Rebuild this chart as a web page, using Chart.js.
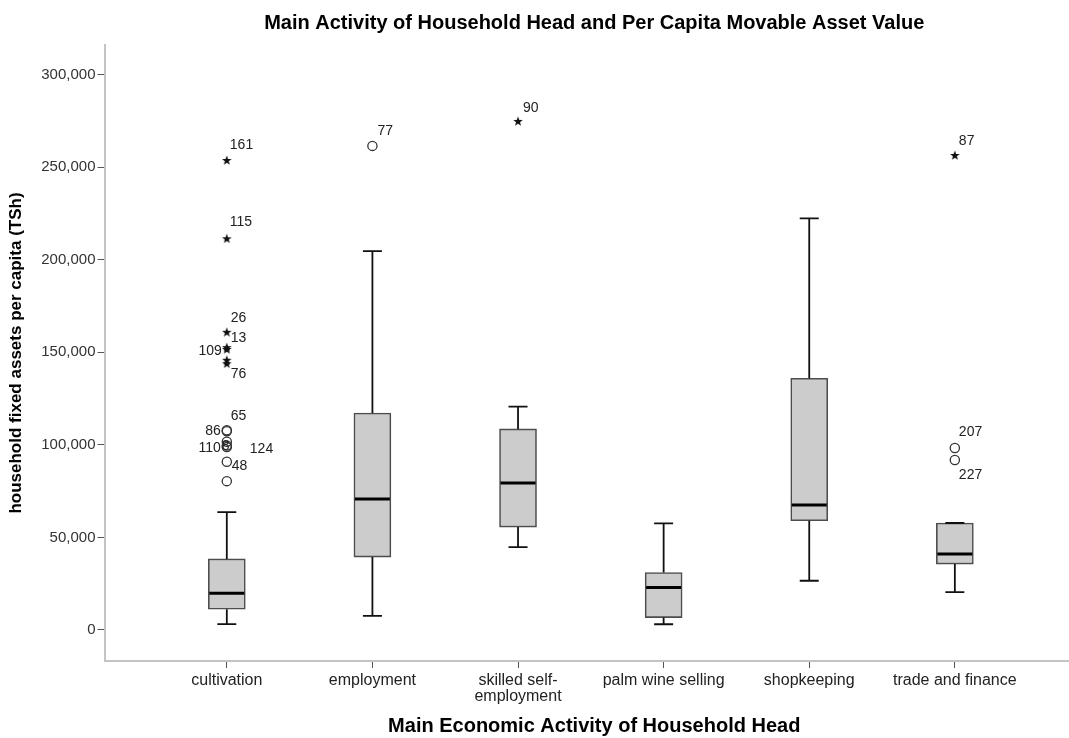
<!DOCTYPE html>
<html lang="en">
<head>
<meta charset="UTF-8">
<title>Main Activity of Household Head and Per Capita Movable Asset Value</title>
<script src="https://cdn.jsdelivr.net/npm/chart.js@4.4.1/dist/chart.umd.js"></script>
<style>
  html, body { margin: 0; padding: 0; background: #fff; overflow: hidden; }
  #wrap { width: 1090px; height: 738px; }
</style>
</head>
<body>
<div id="wrap"><canvas id="chart" width="1090" height="738"></canvas></div>
<script>
// box summary per activity (TSh per capita)
const categories = ['cultivation', 'employment', ['skilled self-', 'employment'], 'palm wine selling', 'shopkeeping', 'trade and finance'];
const whiskerLow  = [3200, 7600, 44800, 3100, 26600, 20500];
const q1          = [11200, 39400, 55600, 6700, 59000, 35600];
const median      = [19800, 70800, 79400, 22900, 67500, 41000];
const q3          = [38400, 117200, 108600, 31000, 136000, 57800];
const whiskerHigh = [63700, 204700, 120700, 57600, 222400, 57800];

// outliers (extreme = star, otherwise circle)
const outlierGroup   = [0, 0, 0, 0, 0, 0, 0, 0, 0, 0, 0, 0, 0, 0, 1, 2, 5, 5, 5];
const outlierValue   = [80400, 90900, 98800, 99600, 101700, 107400, 107900,
                        144100, 146000, 151800, 152800, 161100, 211600, 253900,
                        261500, 275000, 91800, 98300, 256600];
const outlierExtreme = [false, false, false, false, false, false, false,
                        true, true, true, true, true, true, true,
                        false, true, false, false, true];
const outlierCase    = ['', '48', '124', '8', '110', '86', '65',
                        '76', '', '109', '13', '26', '115', '161',
                        '77', '90', '227', '207', '87'];

const yTicks = [0, 50000, 100000, 150000, 200000, 250000, 300000];

// where each case number sits next to its point: [dx, dy, align]
const caseLabelOffset = [[0, 0, 'left'], [5, 4, 'left'], [23, 2, 'left'], [-5, 1, 'left'], [-6, 6, 'right'], [-6, 0, 'right'], [4, -14, 'left'],
                         [4, 11, 'left'], [0, 0, 'left'], [-5, 2, 'right'], [4, -9, 'left'], [4, -14, 'left'], [3, -16, 'left'], [3, -15, 'left'],
                         [5, -15, 'left'], [5, -13, 'left'], [4, 15, 'left'], [4, -16, 'left'], [4, -14, 'left']];

function starImage(size, color) {
    const c = document.createElement('canvas');
    c.width = size; c.height = size;
    const g = c.getContext('2d');
    const r = size / 2, ri = r * 0.42;
    g.beginPath();
    for (let k = 0; k < 10; k++) {
        const rad = k % 2 ? ri : r;
        const a = -Math.PI / 2 + k * Math.PI / 5;
        g.lineTo(r + rad * Math.cos(a), r + 0.6 + rad * Math.sin(a));
    }
    g.closePath();
    g.fillStyle = color;
    g.fill();
    return c;
}

const BOX_W = 37;
const CAP_W = 19;

const boxPlugin = {
    id: 'boxParts',
    afterDatasetsDraw(chart) {
        const ctx = chart.ctx;
        const xs = chart.scales.x, ys = chart.scales.y;
        ctx.save();
        ctx.strokeStyle = '#111';
        categories.forEach((c, i) => {
            const x = xs.getPixelForValue(i);
            // whiskers
            ctx.lineWidth = 1.8;
            ctx.beginPath();
            ctx.moveTo(x, ys.getPixelForValue(q3[i]));
            ctx.lineTo(x, ys.getPixelForValue(whiskerHigh[i]));
            ctx.moveTo(x, ys.getPixelForValue(q1[i]));
            ctx.lineTo(x, ys.getPixelForValue(whiskerLow[i]));
            ctx.moveTo(x - CAP_W / 2, ys.getPixelForValue(whiskerHigh[i]));
            ctx.lineTo(x + CAP_W / 2, ys.getPixelForValue(whiskerHigh[i]));
            ctx.moveTo(x - CAP_W / 2, ys.getPixelForValue(whiskerLow[i]));
            ctx.lineTo(x + CAP_W / 2, ys.getPixelForValue(whiskerLow[i]));
            ctx.stroke();
            // median
            ctx.lineWidth = 3;
            ctx.strokeStyle = '#000';
            ctx.beginPath();
            ctx.moveTo(x - BOX_W / 2 + 1, ys.getPixelForValue(median[i]));
            ctx.lineTo(x + BOX_W / 2 - 1, ys.getPixelForValue(median[i]));
            ctx.stroke();
            ctx.strokeStyle = '#111';
        });
        // case numbers
        ctx.font = '14px "Liberation Sans", Arial, sans-serif';
        ctx.fillStyle = '#222';
        ctx.textBaseline = 'middle';
        outlierCase.forEach((t, k) => {
            if (!t) return;
            const [dx, dy, align] = caseLabelOffset[k];
            ctx.textAlign = align;
            ctx.fillText(t, xs.getPixelForValue(outlierGroup[k]) + dx, ys.getPixelForValue(outlierValue[k]) + dy);
        });
        ctx.restore();
    }
};

const boxData = categories.map((c, i) => ({ x: i, y: [q1[i], q3[i]] }));
const circleData = [], starData = [];
outlierValue.forEach((v, k) => {
    (outlierExtreme[k] ? starData : circleData).push({ x: outlierGroup[k], y: v });
});

new Chart(document.getElementById('chart'), {
    type: 'bar',
    data: {
        datasets: [
            {
                data: boxData,
                backgroundColor: '#cccccc',
                borderColor: '#4d4d4d',
                borderWidth: 1.6,
                borderSkipped: false,
                barThickness: BOX_W,
                grouped: false
            },
            {
                type: 'scatter',
                data: circleData,
                pointStyle: 'circle',
                pointRadius: 4.6,
                backgroundColor: 'rgba(255,255,255,0)',
                borderColor: '#333',
                borderWidth: 1.3
            },
            {
                type: 'scatter',
                data: starData,
                pointStyle: starImage(10, '#111'),
                pointRadius: 5
            }
        ]
    },
    options: {
        responsive: false,
        animation: false,
        layout: { padding: 0 },
        plugins: {
            legend: { display: false },
            tooltip: { enabled: false },
            title: {
                display: true,
                fullSize: false,
                text: 'Main Activity of Household Head and Per Capita Movable Asset Value',
                color: '#000',
                font: { family: '"Liberation Sans", Arial, sans-serif', size: 20, weight: 'bold', lineHeight: 1.2 },
                padding: { top: 11, bottom: 10 }
            }
        },
        scales: {
            x: {
                type: 'linear',
                offset: false,
                min: -0.84,
                max: 5.887,
                afterBuildTicks: s => { s.ticks = categories.map((c, i) => ({ value: i })); },
                afterFit: s => { s.height = 77; },
                ticks: {
                    callback: v => categories[v],
                    color: '#222',
                    font: { family: '"Liberation Sans", Arial, sans-serif', size: 16, lineHeight: 1.0 },
                    padding: 5,
                    maxRotation: 0,
                    autoSkip: false
                },
                grid: { offset: false, drawOnChartArea: false, drawTicks: true, tickLength: 7, color: '#555' },
                border: { color: '#c4c4c4', width: 2 },
                title: {
                    display: true,
                    text: 'Main Economic Activity of Household Head',
                    color: '#000',
                    font: { family: '"Liberation Sans", Arial, sans-serif', size: 20, weight: 'bold', lineHeight: 1.2 },
                    padding: { top: 0, bottom: 0 }
                }
            },
            y: {
                type: 'linear',
                min: -16750,
                max: 316000,
                afterBuildTicks: s => { s.ticks = yTicks.map(v => ({ value: v })); },
                afterFit: s => { s.width = 104.5; },
                ticks: {
                    callback: v => v.toLocaleString('en-US'),
                    color: '#333',
                    font: { family: '"Liberation Sans", Arial, sans-serif', size: 15 },
                    padding: 2
                },
                grid: { drawOnChartArea: false, drawTicks: true, tickLength: 7, color: '#555' },
                border: { color: '#c4c4c4', width: 2 },
                title: {
                    display: true,
                    text: 'household fixed assets per capita (TSh)',
                    color: '#000',
                    font: { family: '"Liberation Sans", Arial, sans-serif', size: 17, weight: 'bold', lineHeight: 1.2 },
                    padding: { top: 6, bottom: 0 }
                }
            }
        }
    },
    plugins: [boxPlugin]
});
</script>
</body>
</html>
